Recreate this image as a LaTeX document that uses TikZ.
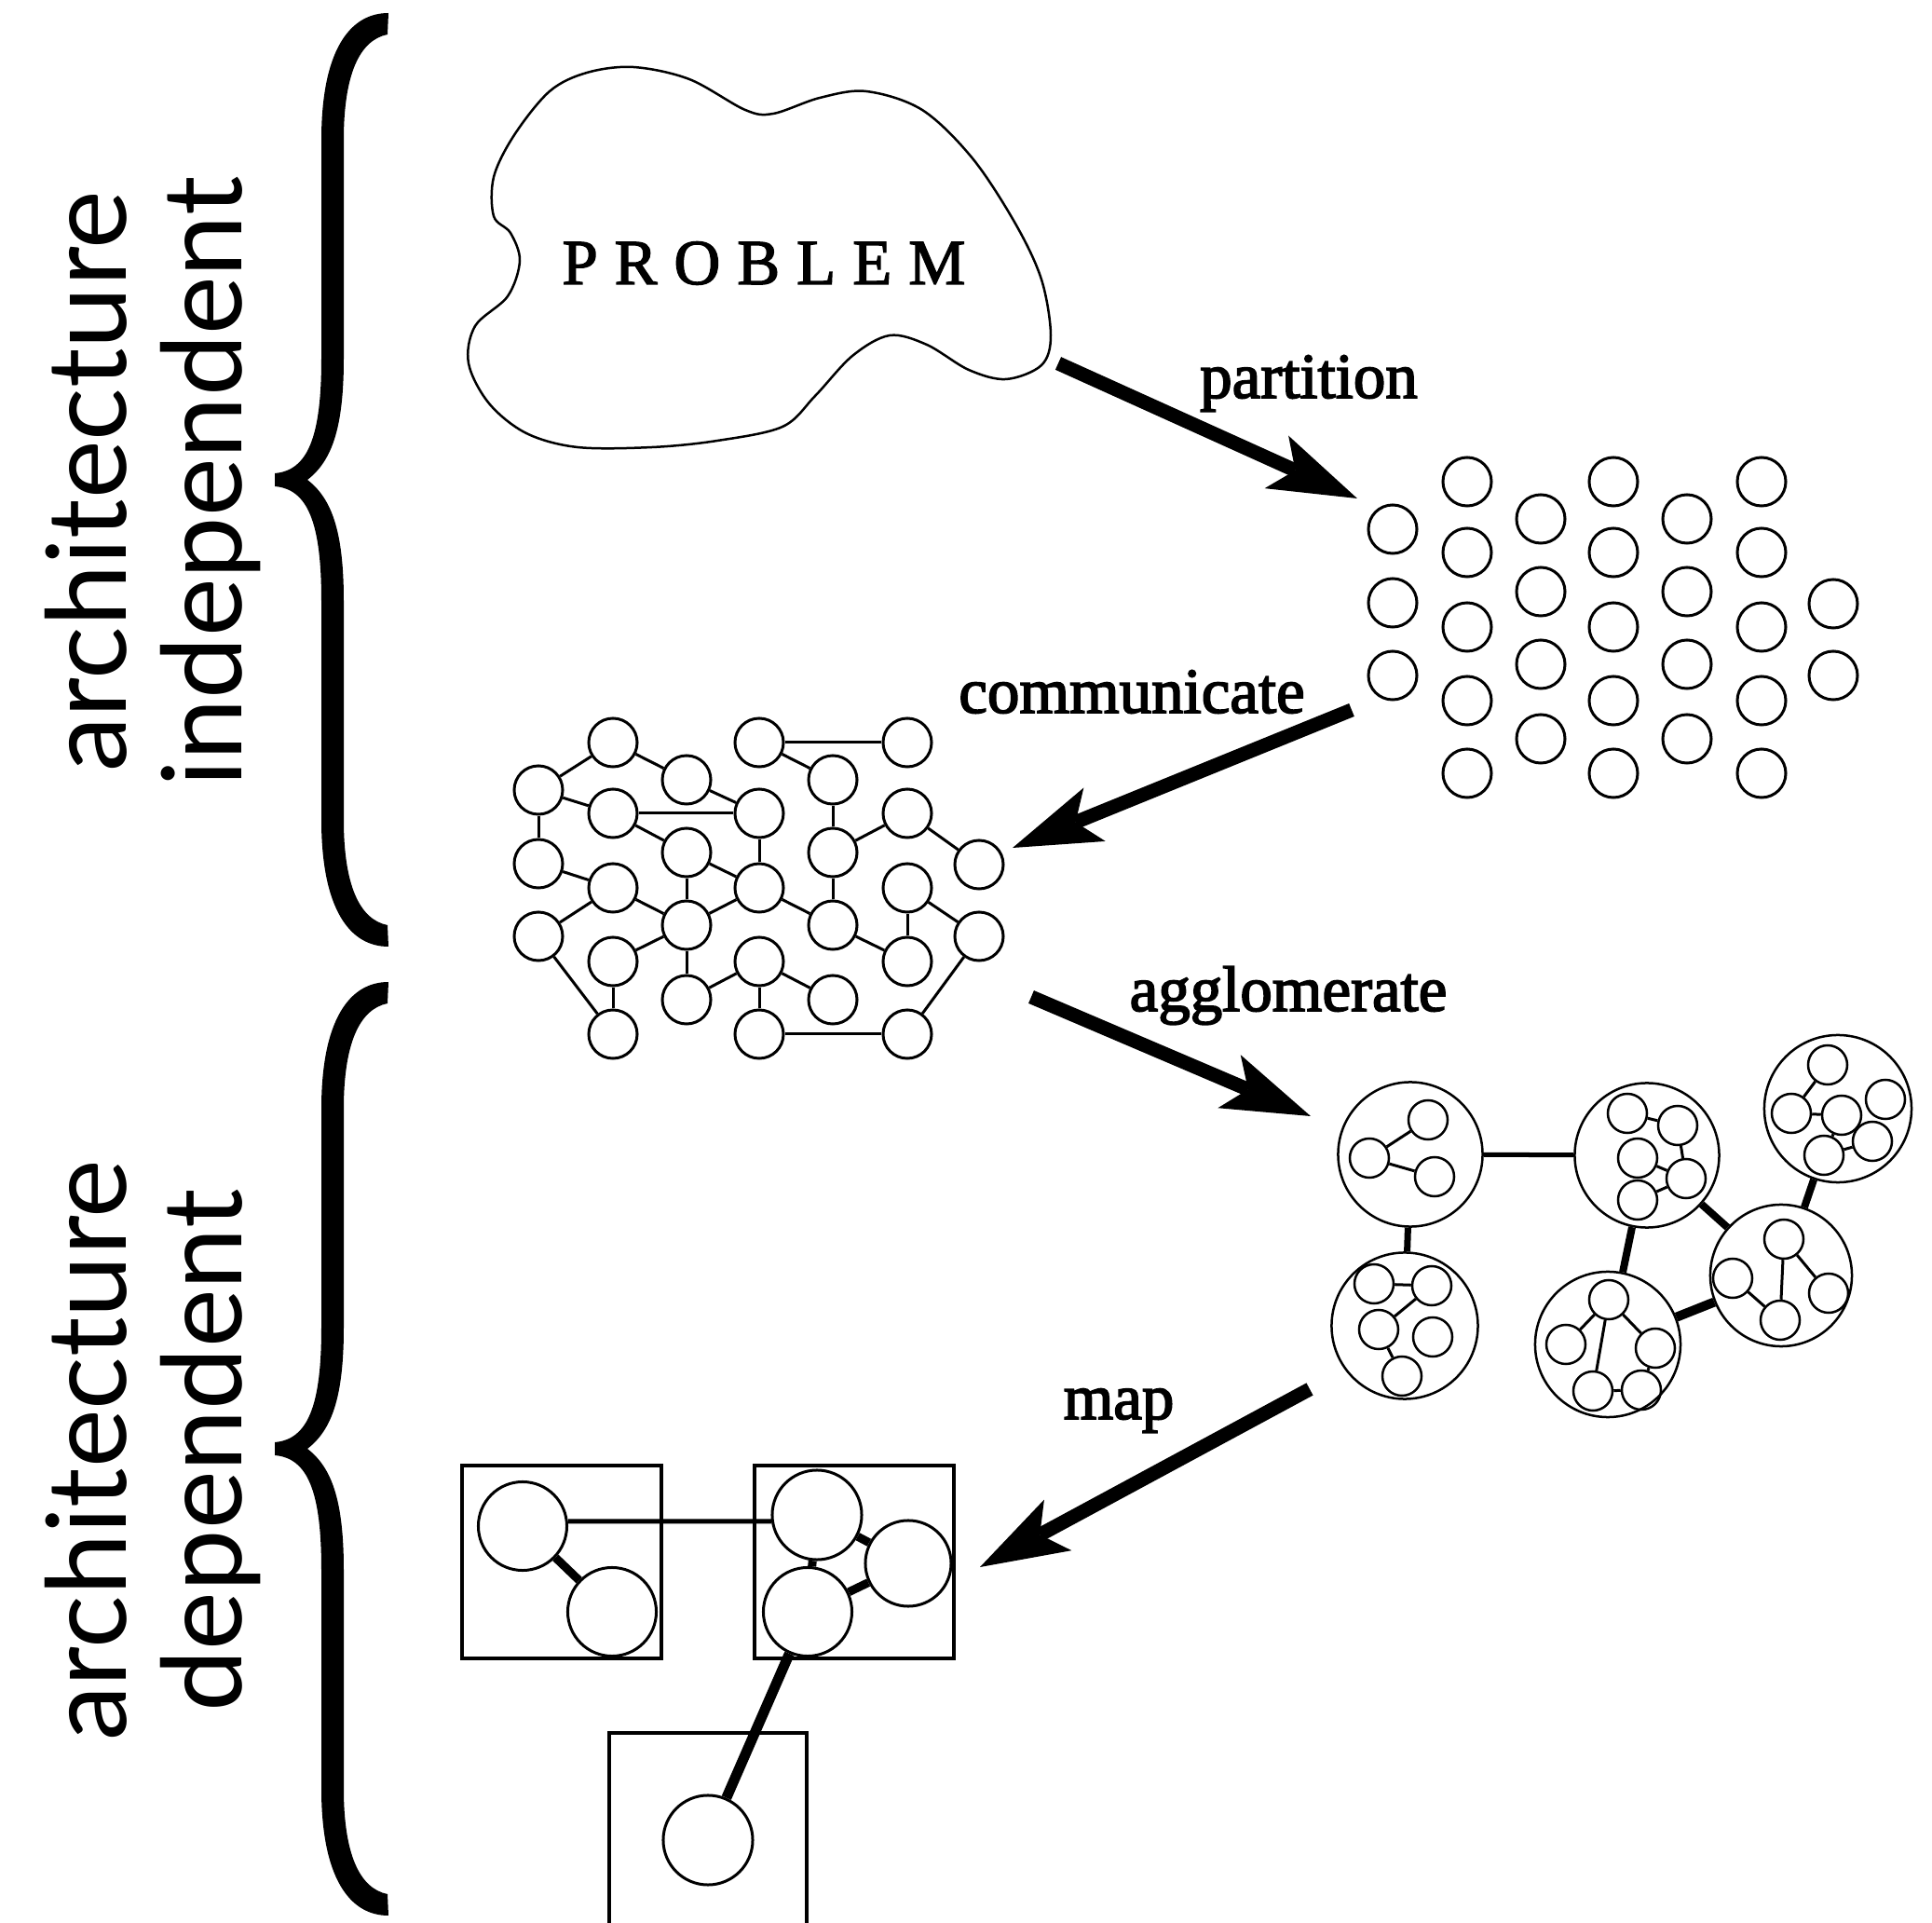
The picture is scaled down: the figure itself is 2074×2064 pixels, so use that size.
\documentclass[tikz,border=0pt]{standalone}
\usepackage{fontspec}
\usetikzlibrary{arrows.meta}
\newfontfamily\sidefont{Lato}
\newfontfamily\stepfont[FakeBold=2.5]{Liberation Serif}
\newfontfamily\problemfont[LetterSpace=26,FakeBold=2]{Liberation Serif}
\begin{document}
\begin{tikzpicture}[x=0.01cm, y=-0.01cm,
  cell/.style={circle, draw, line width=0.03cm, minimum size=0.52cm, inner sep=0pt},
  link/.style={line width=0.03cm},
  bond/.style={line width=#1},
  cluster/.style={circle, draw, line width=0.025cm, minimum size=1.55cm, inner sep=0pt},
  sub/.style={circle, draw, line width=0.025cm, minimum size=0.42cm, inner sep=0pt},
  proc/.style={circle, draw, line width=0.03cm, minimum size=0.95cm, inner sep=0pt},
  box/.style={draw, line width=0.04cm, inner sep=0pt},
  bigarrow/.style={line width=0.15cm,
    -{Stealth[length=0.95cm, width=0.62cm, inset=0.22cm, line width=0pt]}},
  steplbl/.style={font=\stepfont\fontsize{19.6}{24}\selectfont, inner sep=0pt},
  sidelbl/.style={font=\sidefont\fontsize{33.7}{40}\selectfont, rotate=90, inner sep=0pt, anchor=base},
]
\useasboundingbox (0,0) rectangle (2074,2064);
\fill[white] (0,0) rectangle (2074,2064);

% ---- curly braces grouping the steps ----
\foreach \dy in {0,1040}{
  \fill[shift={(0,\dy)}] (417,14) .. controls (375,14) and (345,55) .. (345,150)
    -- (345,385) .. controls (345,470) and (330,505) .. (295,508)
    -- (295,522) .. controls (330,525) and (345,560) .. (345,645)
    -- (345,880) .. controls (345,975) and (375,1016) .. (417,1016)
    -- (416,993) .. controls (386,987) and (369,950) .. (369,880)
    -- (369,645) .. controls (369,570) and (356,535) .. (330,515)
    .. controls (356,495) and (369,460) .. (369,385)
    -- (369,150) .. controls (369,80) and (386,43) .. (416,37) -- cycle;
}
\node[sidelbl] (archTop) at (136,517) {architecture};
\node[sidelbl] (indep) at (259,517) {independent};
\node[sidelbl] (archBot) at (136,1557) {architecture};
\node[sidelbl] (dep) at (259,1557) {dependent};

% ---- the problem domain ----
\draw[line width=0.025cm] plot[smooth cycle, tension=0.55] coordinates {
  (680,72) (740,85) (800,118) (830,122) (880,105) (930,98) (990,118)
  (1044,170) (1090,240) (1118,300) (1128,360) (1118,392) (1080,407)
  (1040,397) (995,370) (955,360) (915,382) (875,425) (840,458) (770,473)
  (700,480) (620,480) (565,465) (525,433) (503,390) (510,350) (545,318)
  (558,280) (548,250) (530,232) (530,190) (552,145) (590,98) (630,78)};
\node[font=\problemfont\fontsize{19.6}{24}\selectfont, inner sep=0pt, anchor=base] (problem) at (820,305) {PROBLEM};

% ---- partitioned tasks ----
\foreach \c/\x/\ys in {1/1495/{568,647,725}, 2/1575/{517,593,673,752,830},
    3/1654/{557,635,713,793}, 4/1732/{517,593,673,752,830},
    5/1811/{557,635,713,793}, 6/1891/{517,593,673,752,830}, 7/1968/{648,725}}{
  \foreach \y [count=\r] in \ys {
    \node[cell] (p-\c-\r) at (\x,\y) {};
  }
}

% ---- tasks with communication channels ----
\foreach \c/\x/\ys in {1/1495/{568,647,725}, 2/1575/{517,593,673,752,830},
    3/1654/{557,635,713,793}, 4/1732/{517,593,673,752,830},
    5/1811/{557,635,713,793}, 6/1891/{517,593,673,752,830}, 7/1968/{648,725}}{
  \foreach \y [count=\r] in \ys {
    \node[cell] (q-\c-\r) at (\x-917,\y+280) {};
  }
}
\foreach \a/\b in {2-1/1-1, 2-1/3-1, 4-1/6-1, 4-1/5-1, 1-1/2-2, 1-1/1-2,
    3-1/4-2, 2-2/4-2, 2-2/3-2, 5-1/5-2, 4-2/4-3, 6-2/5-2, 6-2/7-1,
    3-2/4-3, 3-2/3-3, 1-2/2-3, 5-2/5-3, 2-3/3-3, 2-3/1-3, 4-3/3-3,
    4-3/5-3, 6-3/6-4, 6-3/7-2, 5-3/6-4, 3-3/2-4, 3-3/3-4, 2-4/2-5,
    1-3/2-5, 4-4/3-4, 4-4/5-4, 4-4/4-5, 4-5/6-5, 7-2/6-5}{
  \draw[link] (q-\a) -- (q-\b);
}

% ---- agglomerated groups ----
\node[cluster] (g1) at (1514,1239) {};
\node[sub] (g1a) at (1533,1202) {};
\node[sub] (g1b) at (1470,1243) {};
\node[sub] (g1c) at (1540,1263) {};
\draw[link] (g1b) -- (g1a);
\draw[link] (g1b) -- (g1c);

\node[cluster, minimum size=1.57cm] (g2) at (1508,1423) {};
\node[sub] (g2a) at (1475,1378) {};
\node[sub] (g2b) at (1537,1380) {};
\node[sub] (g2c) at (1480,1427) {};
\node[sub] (g2d) at (1538,1435) {};
\node[sub] (g2e) at (1505,1477) {};
\draw[link] (g2a) -- (g2b);
\draw[link] (g2b) -- (g2c);
\draw[link] (g2c) -- (g2e);

\node[cluster] (g3) at (1768,1240) {};
\node[sub] (g3a) at (1747,1195) {};
\node[sub] (g3b) at (1801,1208) {};
\node[sub] (g3c) at (1758,1243) {};
\node[sub] (g3d) at (1810,1265) {};
\node[sub] (g3e) at (1758,1288) {};
\draw[link] (g3a) -- (g3b);
\draw[link] (g3b) -- (g3d);
\draw[link] (g3c) -- (g3d);
\draw[link] (g3d) -- (g3e);

\node[cluster, minimum size=1.58cm] (g4) at (1973,1190) {};
\node[sub] (g4a) at (1962,1143) {};
\node[sub] (g4b) at (2024,1180) {};
\node[sub] (g4c) at (1923,1195) {};
\node[sub] (g4d) at (1977,1197) {};
\node[sub] (g4e) at (2010,1225) {};
\node[sub] (g4f) at (1958,1240) {};
\draw[link] (g4a) -- (g4c);
\draw[link] (g4c) -- (g4d);
\draw[link] (g4d) -- (g4e);
\draw[link] (g4e) -- (g4f);
\draw[link] (g4d) -- (g4f);

\node[cluster, minimum size=1.52cm] (g5) at (1912,1369) {};
\node[sub] (g5a) at (1915,1330) {};
\node[sub] (g5b) at (1860,1372) {};
\node[sub] (g5c) at (1963,1388) {};
\node[sub] (g5d) at (1911,1417) {};
\draw[link] (g5a) -- (g5d);
\draw[link] (g5a) -- (g5c);
\draw[link] (g5b) -- (g5d);

\node[cluster, minimum size=1.56cm] (g6) at (1726,1443) {};
\node[sub] (g6a) at (1727,1395) {};
\node[sub] (g6b) at (1681,1443) {};
\node[sub] (g6c) at (1777,1447) {};
\node[sub] (g6d) at (1710,1493) {};
\node[sub] (g6e) at (1762,1492) {};
\draw[link] (g6a) -- (g6b);
\draw[link] (g6a) -- (g6d);
\draw[link] (g6a) -- (g6c);
\draw[link] (g6d) -- (g6e);
\draw[link] (g6c) -- (g6e);

\draw[bond=0.05cm] (g1) -- (g3);
\draw[bond=0.07cm] (g1) -- (g2);
\draw[bond=0.08cm] (g3) -- (g6);
\draw[bond=0.08cm] (g3) -- (g5);
\draw[bond=0.10cm] (g6) -- (g5);
\draw[bond=0.08cm] (g4) -- (g5);

% ---- mapping onto processors ----
\node[box, minimum width=2.14cm, minimum height=2.07cm] (cpu1) at (603,1676.5) {};
\node[box, minimum width=2.14cm, minimum height=2.07cm] (cpu2) at (917,1676.5) {};
\node[box, minimum width=2.12cm, minimum height=2.3cm] (cpu3) at (760,1975) {};
\node[proc] (m1) at (561,1638) {};
\node[proc] (m2) at (657,1730) {};
\node[proc, minimum size=0.96cm] (m3) at (877,1626) {};
\node[proc, minimum size=0.92cm] (m4) at (975,1678) {};
\node[proc] (m5) at (867,1730) {};
\node[proc, minimum size=0.96cm] (m6) at (760,1975) {};
\draw[bond=0.05cm] (m1.6) -- (m3.188);
\draw[bond=0.09cm] (m1) -- (m2);
\draw[bond=0.09cm] (m3) -- (m4);
\draw[bond=0.09cm] (m3) -- (m5);
\draw[bond=0.09cm] (m4) -- (m5);
\draw[bond=0.11cm] (m5) -- (m6);

% ---- the four design steps ----
\coordinate (partFrom) at (1136,390);
\coordinate (partTo) at (1457,535);
\coordinate (commFrom) at (1451,762);
\coordinate (commTo) at (1087,910);
\coordinate (aggFrom) at (1107,1070);
\coordinate (aggTo) at (1407,1198);
\coordinate (mapFrom) at (1406,1491);
\coordinate (mapTo) at (1052,1682);
\draw[bigarrow] (partFrom) -- (partTo);
\draw[bigarrow] (commFrom) -- (commTo);
\draw[bigarrow] (aggFrom) -- (aggTo);
\draw[bigarrow] (mapFrom) -- (mapTo);
\node[steplbl, anchor=base] (partLbl) at (1405,427) {partition};
\node[steplbl, anchor=base] (commLbl) at (1215,765) {communicate};
\node[steplbl, anchor=base] (aggLbl) at (1383,1085) {agglomerate};
\node[steplbl, anchor=base] (mapLbl) at (1201,1523) {map};
\end{tikzpicture}
\end{document}
